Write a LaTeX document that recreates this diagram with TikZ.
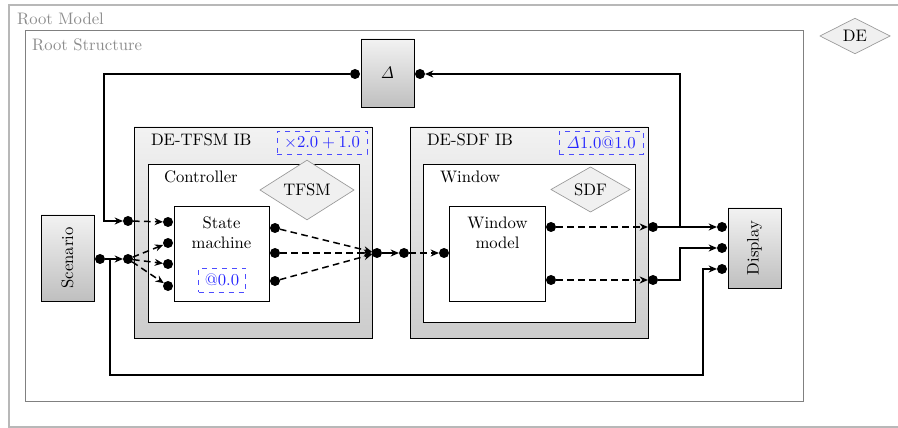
\documentclass[tikz,border=0pt]{standalone}
\usepackage{tikz}
\usepackage{graphicx}
\usetikzlibrary{arrows.meta,shapes.geometric}

\begin{document}
\begin{tikzpicture}[x=0.6pt,y=-0.6pt,
    every node/.style={outer sep=0pt},
    caption/.style={anchor=west, inner sep=0pt},
    actor/.style={draw, line width=0.55pt, top color=black!5, bottom color=black!25, inner sep=0pt},
    ibbox/.style={draw, line width=0.55pt, top color=black!5, bottom color=black!20, inner sep=0pt},
    innerbox/.style={draw, line width=0.5pt, fill=white, inner sep=0pt},
    director/.style={diamond, draw=black!40, fill=black!6, inner sep=0pt},
    tag/.style={draw=blue!70, dashed, text=blue!85, inner sep=0pt},
    port/.style={circle, fill=black, inner sep=0pt, minimum size=6pt},
    link/.style={line width=0.9pt, -{Stealth[length=5pt,width=4.2pt,inset=1.6pt]}},
    dlink/.style={link, dash pattern=on 4pt off 2.6pt}]
    \useasboundingbox (0,0) rectangle (898,428);

    % frames
    \draw[black!28, line width=1pt] (9,5) rectangle (910,427);
    \node[caption, text=black!45] (root model) at (17,18.5) {Root Model};
    \draw[black!50, line width=0.6pt] (25,31) rectangle (803,401);
    \node[caption, text=black!45] (root structure) at (32,45) {Root Structure};
    \node[director, minimum width=42pt, minimum height=21pt] (de) at (855,36) {DE};

    % actors
    \node[actor, minimum width=31.8pt, minimum height=40.8pt] (delta) at (387.5,73) {$\mathit{\Delta}$};
    \node[actor, minimum width=31.8pt, minimum height=51.6pt] (scenario) at (67.5,258) {\rotatebox{90}{Scenario}};
    \node[actor, minimum width=31.8pt, minimum height=48pt] (display) at (754.5,248) {\rotatebox{90}{Display}};

    % DE-TFSM IB
    \node[ibbox, minimum width=142.8pt, minimum height=126.6pt] (tfsm ib) at (253,232.5) {};
    \node[caption] (tfsm ib label) at (151,139.5) {DE-TFSM IB};
    \node[tag, minimum width=54pt, minimum height=13.8pt] (tfsm scale) at (322,142.5) {$\times 2.0 + 1.0$};
    \node[innerbox, minimum width=126.6pt, minimum height=94.8pt] (controller) at (253.5,243) {};
    \node[caption] (controller label) at (164,176.5) {Controller};
    \node[director, minimum width=56.4pt, minimum height=27.6pt] (tfsm) at (307,190) {TFSM};
    \node[innerbox, minimum width=57pt, minimum height=57pt] (sm) at (221.5,253.5) {};
    \node[align=center, inner sep=0pt] (sm label) at (221.5,233) {State\\machine};
    \node[tag, minimum width=28.2pt, minimum height=14.4pt] (sm time) at (222,280) {@0.0};

    % DE-SDF IB
    \node[ibbox, minimum width=142.8pt, minimum height=126.6pt] (sdf ib) at (529,232.5) {};
    \node[caption] (sdf ib label) at (427,139.5) {DE-SDF IB};
    \node[tag, minimum width=50.4pt, minimum height=13.8pt] (sdf delay) at (601,142.5) {$\mathit{\Delta}$1.0@1.0};
    \node[innerbox, minimum width=127.2pt, minimum height=94.8pt] (window) at (529,243) {};
    \node[caption] (window label) at (440,176.5) {Window};
    \node[director, minimum width=47.4pt, minimum height=23.4pt] (sdf) at (590.5,189.5) {SDF};
    \node[innerbox, minimum width=58pt, minimum height=57pt] (wm) at (497.5,253.5) {};
    \node[align=center, inner sep=0pt] (wm label) at (497.5,233) {Window\\model};

    % ports
    \node[port] (delta l) at (355,74) {};
    \node[port] (delta r) at (420,74) {};
    \node[port] (scen out) at (100,259) {};
    \node[port] (tfsm in1) at (128,221) {};
    \node[port] (tfsm in2) at (128,259) {};
    \node[port] (sm in1) at (168,222) {};
    \node[port] (sm in2) at (168,243) {};
    \node[port] (sm in3) at (168,264) {};
    \node[port] (sm in4) at (168,286) {};
    \node[port] (sm out1) at (275,228) {};
    \node[port] (sm out2) at (275,253) {};
    \node[port] (sm out3) at (275,281) {};
    \node[port] (tfsm out) at (377,253) {};
    \node[port] (sdf in) at (404,253) {};
    \node[port] (wm in) at (444,253) {};
    \node[port] (wm out1) at (551,227) {};
    \node[port] (wm out2) at (551,280) {};
    \node[port] (sdf out1) at (653,227) {};
    \node[port] (sdf out2) at (653,280) {};
    \node[port] (disp in1) at (722,227) {};
    \node[port] (disp in2) at (722,248) {};
    \node[port] (disp in3) at (722,269) {};

    % bends
    \coordinate (fb left) at (104,221);
    \coordinate (fb right) at (680,227);
    \coordinate (jog) at (680,248);
    \coordinate (bus low) at (110,375);
    \coordinate (bus up) at (703,269);

    % connections
    \draw[link] (delta l) -| (fb left) -- (tfsm in1);
    \draw[link] (scen out) -- (tfsm in2);
    \draw[link] (scen out) -| (bus low) -| (bus up) -- (disp in3);
    \draw[dlink] (tfsm in1) -- (sm in1);
    \draw[dlink] (tfsm in2) -- (sm in2);
    \draw[dlink] (tfsm in2) -- (sm in3);
    \draw[dlink] (tfsm in2) -- (sm in4);
    \draw[dlink] (sm out1) -- (tfsm out);
    \draw[dlink] (sm out2) -- (tfsm out);
    \draw[dlink] (sm out3) -- (tfsm out);
    \draw[link] (tfsm out) -- (sdf in);
    \draw[dlink] (sdf in) -- (wm in);
    \draw[dlink] (wm out1) -- (sdf out1);
    \draw[dlink] (wm out2) -- (sdf out2);
    \draw[link] (sdf out1) -- (disp in1);
    \draw[link] (sdf out1) -- (fb right) |- (delta r);
    \draw[link] (sdf out2) -| (jog) -- (disp in2);
\end{tikzpicture}
\end{document}
